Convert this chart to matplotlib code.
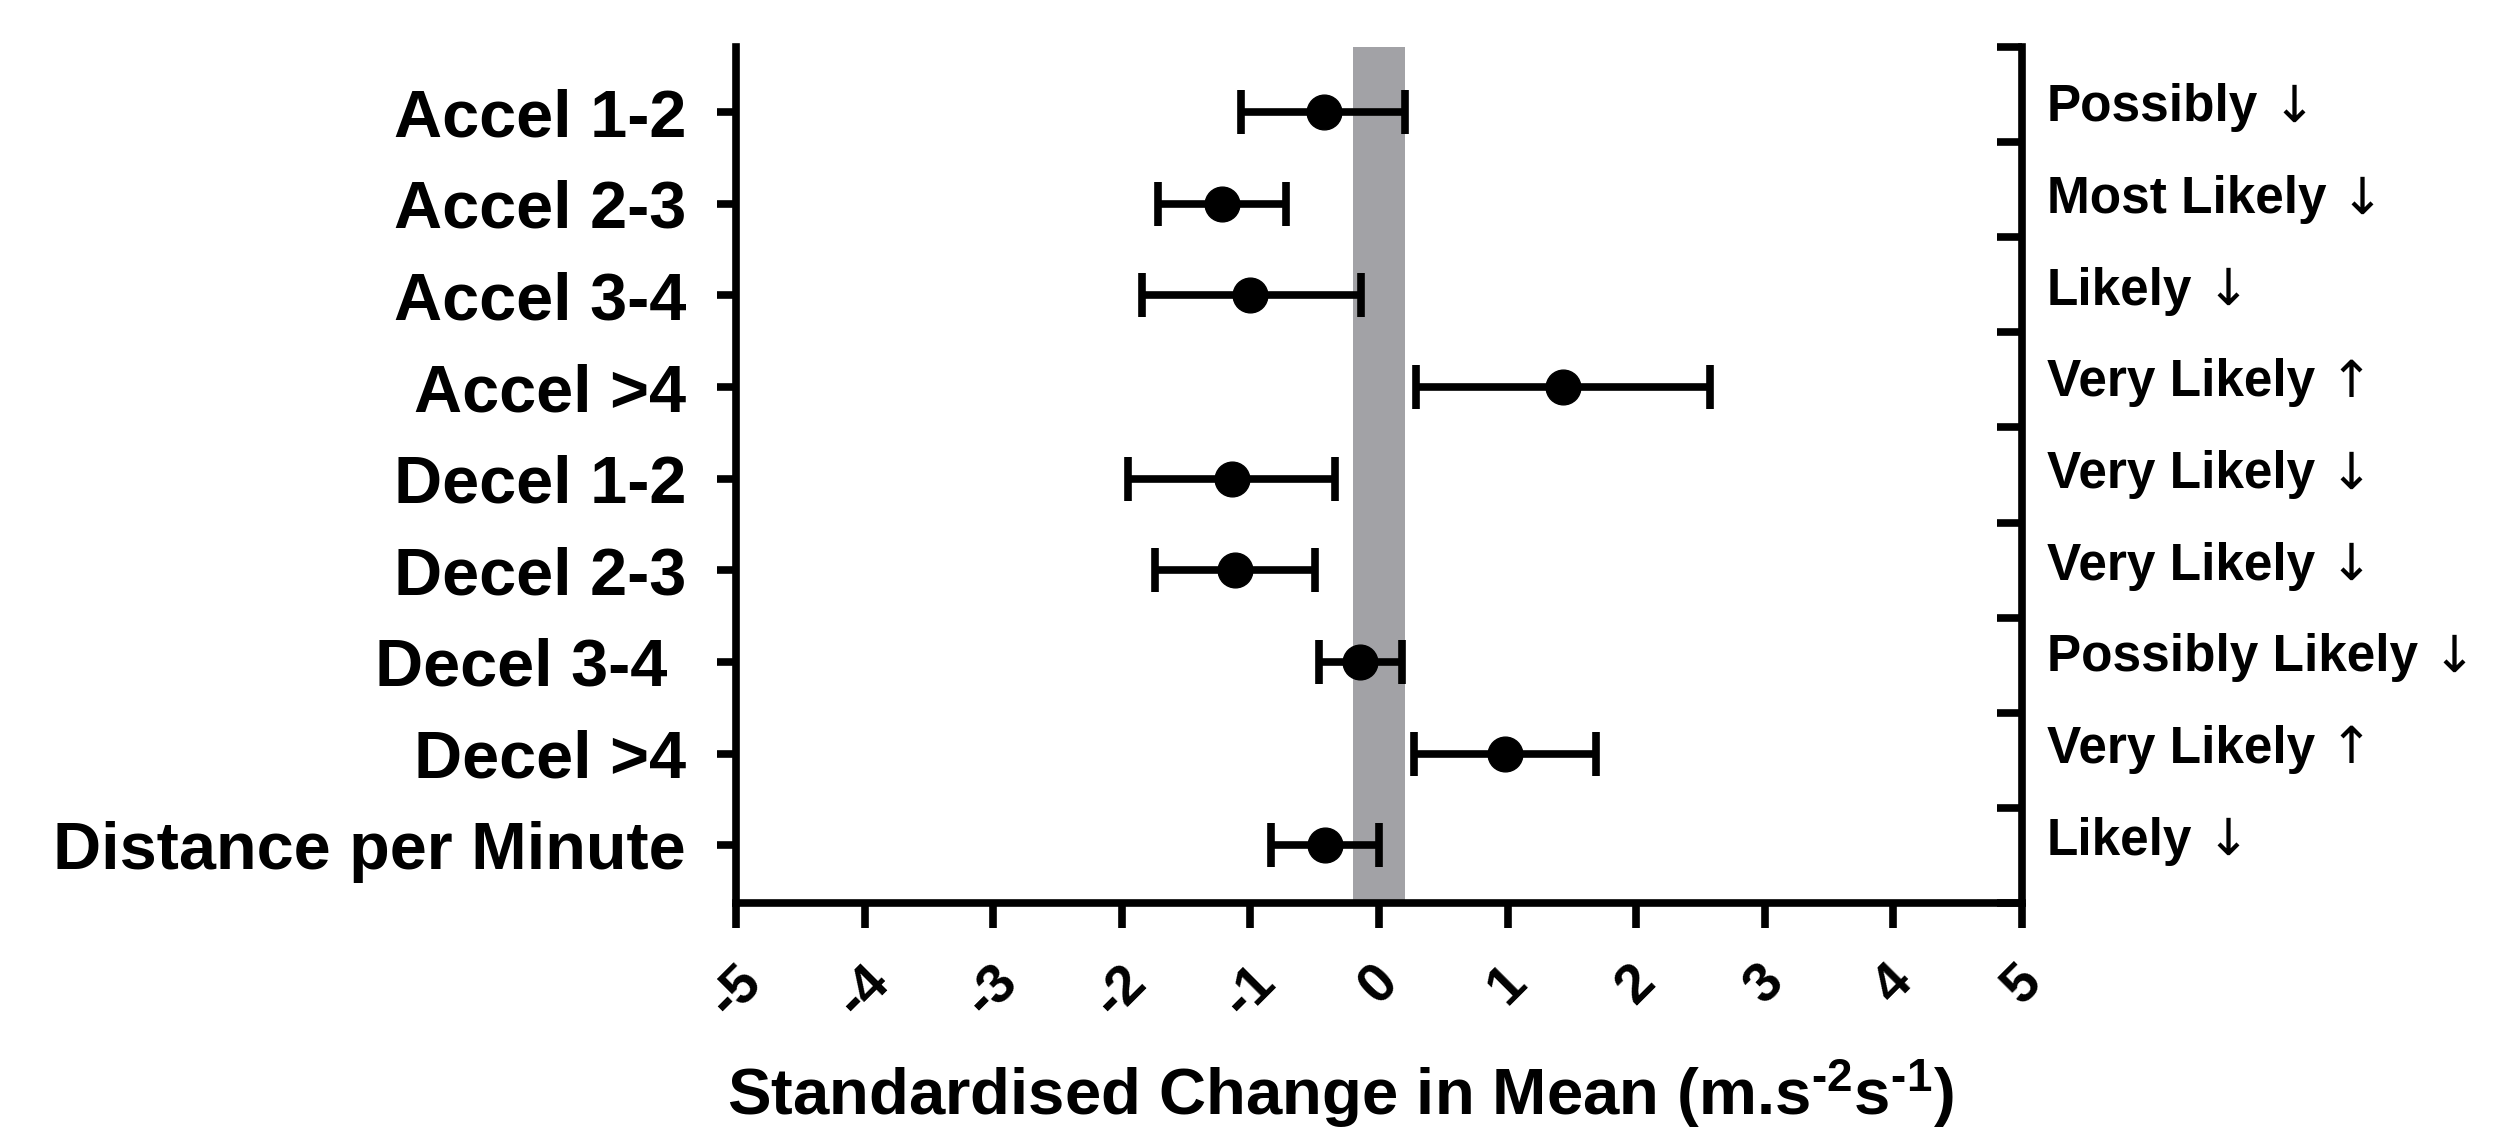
import numpy as np
import matplotlib
matplotlib.use("Agg")
import matplotlib.pyplot as plt
from matplotlib.transforms import blended_transform_factory

# data
categories = ["Accel 1-2", "Accel 2-3", "Accel 3-4", "Accel >4", "Decel 1-2",
              "Decel 2-3", "Decel 3-4 ", "Decel >4", "Distance per Minute"]
means = [-0.43, -1.22, -1.00, 1.43, -1.14, -1.12, -0.15, 0.98, -0.42]
lower = [-1.07, -1.72, -1.84, 0.29, -1.95, -1.74, -0.47, 0.27, -0.84]
upper = [0.20, -0.72, -0.14, 2.57, -0.34, -0.50, 0.18, 1.69, 0.00]
inferences = ["Possibly", "Most Likely", "Likely", "Very Likely", "Very Likely",
              "Very Likely", "Possibly Likely", "Very Likely", "Likely"]
directions = ["\u2193", "\u2193", "\u2193", "\u2191", "\u2193", "\u2193", "\u2193", "\u2191", "\u2193"]
trivial = (-0.2, 0.2)
x_ticks = list(range(-5, 6))

plt.rcParams['font.family'] = ['Liberation Sans', 'DejaVu Sans']
plt.rcParams['font.weight'] = 'bold'
plt.rcParams['mathtext.fontset'] = 'custom'
plt.rcParams['mathtext.rm'] = 'Liberation Sans:bold'
plt.rcParams['mathtext.it'] = 'Liberation Sans:bold'
plt.rcParams['mathtext.bf'] = 'Liberation Sans:bold'

fig = plt.figure(figsize=(25.11, 11.33), dpi=100)
ax = fig.add_axes([0.2931, 0.2030, 0.5122, 0.7555])

y = np.arange(len(categories))
m = np.array(means)
lo = np.array(lower)
hi = np.array(upper)

# trivial-change band
ax.axvspan(*trivial, color='#a2a2a6', lw=0, zorder=0)

ax.errorbar(m, y, xerr=[m - lo, hi - m], fmt='o', color='black', ms=25,
            elinewidth=5.5, capsize=16, capthick=5.5, zorder=3)

ax.set_xlim(-5, 5)
ax.set_ylim(8.63, -0.71)
ax.set_yticks(y, categories)
ax.set_xticks(x_ticks, [str(t) for t in x_ticks])

for side in ['left', 'bottom']:
    ax.spines[side].set_linewidth(5.5)
ax.spines['top'].set_visible(False)
ax.spines['right'].set_visible(False)

ax.tick_params(axis='y', direction='out', length=14, width=5.5, labelsize=48, pad=22)
ax.tick_params(axis='x', direction='out', length=18, width=5.5, labelsize=40, pad=20,
               labelrotation=45)

ax.set_xlabel(r"Standardised Change in Mean (m.s$^{\text{-2}}$s$^{\text{-1}}$)",
              fontsize=47, fontweight='bold')
ax.xaxis.set_label_coords(0.47, -0.18)

# right-hand axis with inward ticks
ax2 = ax.twinx()
ax2.set_ylim(0, 9)
ax2.set_yticks(range(10))
ax2.tick_params(axis='y', direction='in', length=18, width=5.5, labelright=False)
for side in ['top', 'left', 'bottom']:
    ax2.spines[side].set_visible(False)
ax2.spines['right'].set_linewidth(5.5)

# inference labels
trans = blended_transform_factory(ax.transAxes, ax.transData)
for yi, txt, arr in zip(y, inferences, directions):
    t = ax.annotate(txt, xy=(1, yi), xycoords=trans, xytext=(18, 3),
                    textcoords='offset points', ha='left', va='center',
                    fontsize=37, fontweight='bold')
    ax.annotate(arr, xy=(1, 0.5), xycoords=t, xytext=(10, 0),
                textcoords='offset points', ha='left', va='center',
                fontsize=37, fontweight='normal', family='DejaVu Sans')

fig.savefig("out.png", dpi=100)
